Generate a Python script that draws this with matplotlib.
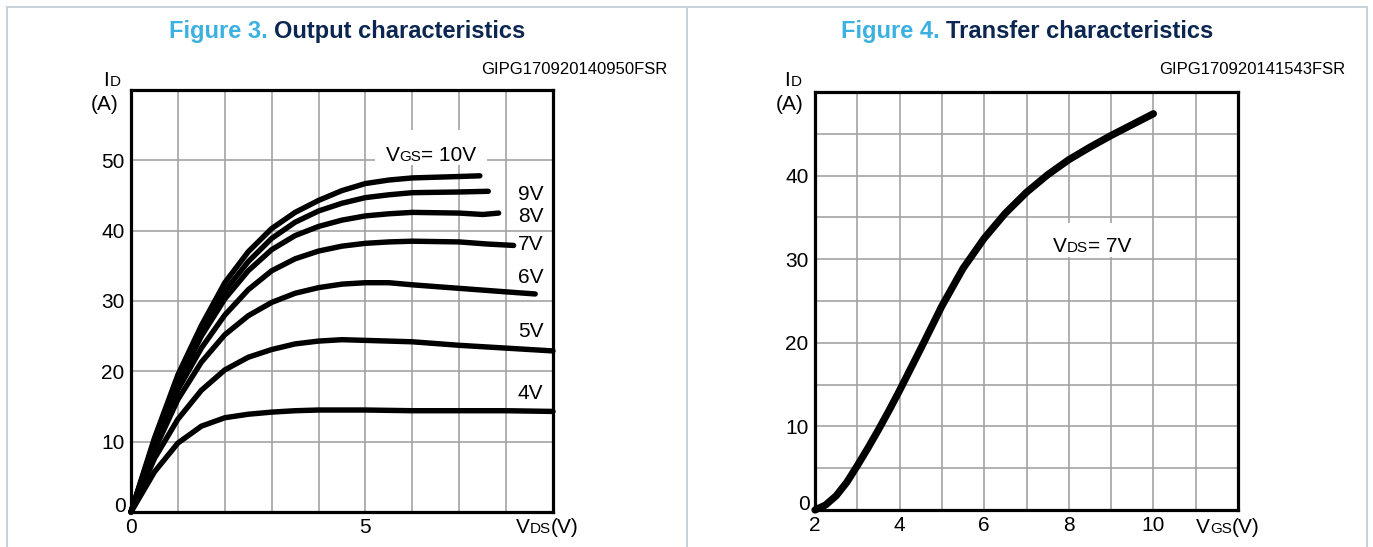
import matplotlib
matplotlib.use("Agg")
import matplotlib.pyplot as plt
from matplotlib.lines import Line2D
from matplotlib.patches import Rectangle
from matplotlib.transforms import ScaledTranslation

plt.rcParams['font.family'] = ['Liberation Sans', 'DejaVu Sans']

W, H, DPI = 1373, 547, 100

# ---------------- Figure 3: output characteristics (ID vs VDS) ----------------
vds_10v = [0, 0.5, 1, 1.5, 2, 2.5, 3, 3.5, 4, 4.5, 5, 5.5, 6, 7, 7.44]
id_10v = [0, 10.5, 19.5, 26.5, 32.6, 37.0, 40.3, 42.6, 44.3, 45.7, 46.7, 47.2, 47.5, 47.7, 47.8]

vds_9v = [0, 0.5, 1, 1.5, 2, 2.5, 3, 3.5, 4, 4.5, 5, 5.5, 6, 7, 7.62]
id_9v = [0, 10.2, 19.0, 25.8, 31.4, 35.6, 38.9, 41.2, 42.8, 43.9, 44.7, 45.1, 45.4, 45.5, 45.6]

vds_8v = [0, 0.5, 1, 1.5, 2, 2.5, 3, 3.5, 4, 4.5, 5, 5.5, 6, 7, 7.5, 7.84]
id_8v = [0, 9.9, 18.4, 25.0, 30.3, 34.3, 37.3, 39.3, 40.6, 41.5, 42.1, 42.4, 42.6, 42.5, 42.3, 42.5]

vds_7v = [0, 0.5, 1, 1.5, 2, 2.5, 3, 3.5, 4, 4.5, 5, 5.5, 6, 7, 7.6, 8.16]
id_7v = [0, 9.4, 17.4, 23.3, 28.0, 31.6, 34.3, 36.0, 37.1, 37.8, 38.2, 38.4, 38.5, 38.4, 38.1, 37.9]

vds_6v = [0, 0.5, 1, 1.5, 2, 2.5, 3, 3.5, 4, 4.5, 5, 5.5, 6, 7, 8, 8.62]
id_6v = [0, 8.8, 16.0, 21.3, 25.2, 27.9, 29.8, 31.1, 31.9, 32.4, 32.6, 32.6, 32.3, 31.8, 31.3, 31.0]

vds_5v = [0, 0.5, 1, 1.5, 2, 2.5, 3, 3.5, 4, 4.5, 5, 6, 7, 8, 9]
id_5v = [0, 7.6, 13.2, 17.3, 20.2, 22.0, 23.1, 23.9, 24.3, 24.5, 24.4, 24.2, 23.7, 23.3, 22.9]

vds_4v = [0, 0.5, 1, 1.5, 2, 2.5, 3, 3.5, 4, 4.5, 5, 6, 7, 8, 9]
id_4v = [0, 5.7, 9.8, 12.2, 13.4, 13.9, 14.2, 14.4, 14.5, 14.5, 14.5, 14.4, 14.4, 14.4, 14.3]

curve_labels = ["9V", "8V", "7V", "6V", "5V", "4V"]
curve_label_y = [45.2, 42.0, 38.1, 33.4, 25.6, 16.8]

out_x_ticks = [0, 1, 2, 3, 4, 5, 6, 7, 8, 9]
out_x_labels = ["0", "", "", "", "", "5", "", "", "", ""]
out_y_ticks = [0, 10, 20, 30, 40, 50, 60]
out_y_labels = ["", "10", "20", "30", "40", "50", ""]

# ---------------- Figure 4: transfer characteristics (ID vs VGS) ----------------
vgs_transfer = [2, 2.25, 2.5, 2.75, 3, 3.25, 3.5, 3.75, 4, 4.5, 5, 5.5, 6,
                6.5, 7, 7.5, 8, 8.5, 9, 9.5, 10]
id_transfer = [0, 0.6, 1.7, 3.3, 5.3, 7.4, 9.6, 11.9, 14.3, 19.3, 24.4, 28.9, 32.5,
               35.5, 38.0, 40.1, 41.9, 43.4, 44.8, 46.1, 47.4]

tr_x_ticks = [2, 3, 4, 5, 6, 7, 8, 9, 10, 11, 12]
tr_x_labels = ["2", "", "4", "", "6", "", "8", "", "10", "", ""]
tr_y_ticks = [0, 5, 10, 15, 20, 25, 30, 35, 40, 45, 50]
tr_y_labels = ["", "", "10", "", "20", "", "30", "", "40", "", ""]

LIGHT_BLUE = "#3cb0e0"
NAVY = "#0b2650"
BORDER = "#c6d0d8"
GRID = "#a3a3a3"
TICK_FS = 15
SMALL_FS = 11

fig = plt.figure(figsize=(W / DPI, H / DPI), dpi=DPI)
renderer = fig.canvas.get_renderer()


def fx(x):
    return x / W


def fy(y):
    return 1 - y / H


def rich_text(x, y, parts, transform=None, ha="center", zorder=5):
    """Draw a run of differently styled pieces sharing one baseline.
    parts: list of (text, fontsize, color, weight, gap_px_before)."""
    if transform is None:
        transform = fig.transFigure
    widths = []
    for s, size, color, weight, gap in parts:
        t = fig.text(0, 0, s, fontsize=size, fontweight=weight)
        widths.append(t.get_window_extent(renderer).width + gap)
        t.remove()
    total = sum(widths)
    off = {"center": -total / 2, "left": 0.0, "right": -total}[ha]
    for (s, size, color, weight, gap), w in zip(parts, widths):
        off_text = off + gap
        tr = transform + ScaledTranslation(off_text / DPI, 0, fig.dpi_scale_trans)
        fig.text(x, y, s, transform=tr, ha="left", va="baseline", fontsize=size,
                 color=color, fontweight=weight, zorder=zorder)
        off += w


def style_axes(ax, xt, xl, yt, yl):
    ax.set_xticks(xt)
    ax.set_xticklabels(xl)
    ax.set_yticks(yt)
    ax.set_yticklabels(yl)
    ax.set_xlim(xt[0], xt[-1])
    ax.set_ylim(yt[0], yt[-1])
    ax.tick_params(length=0, labelsize=TICK_FS)
    ax.tick_params(axis="x", pad=4.5)
    ax.tick_params(axis="y", pad=4.5)
    ax.grid(True, color=GRID, lw=1.2)
    ax.set_axisbelow(True)
    for sp in ax.spines.values():
        sp.set_linewidth(2.3)
        sp.set_color("black")
    # zero label sits slightly above the x axis
    ax.annotate("0", xy=(xt[0], yt[0]), xytext=(-4, 4), textcoords="offset points",
                ha="right", va="center", fontsize=TICK_FS)


# ---- panel frame
frame_kw = dict(transform=fig.transFigure, color=BORDER, lw=1.4)
fig.add_artist(Line2D([fx(7), fx(1367)], [fy(7), fy(7)], **frame_kw))
for xb in (7, 687, 1367):
    fig.add_artist(Line2D([fx(xb), fx(xb)], [0, fy(7)], **frame_kw))

# ---- titles
rich_text(fx(347), fy(38), [("Figure 3.", 17, LIGHT_BLUE, "bold", 0),
                            ("Output characteristics", 17, NAVY, "bold", 6)])
rich_text(fx(1027), fy(38), [("Figure 4.", 17, LIGHT_BLUE, "bold", 0),
                             ("Transfer characteristics", 17, NAVY, "bold", 6)])

fig.text(fx(667), fy(70), "GIPG170920140950FSR", ha="right", va="center", fontsize=12)
fig.text(fx(1345), fy(70), "GIPG170920141543FSR", ha="right", va="center", fontsize=12)

# ---------------- left axes ----------------
ax1 = fig.add_axes([fx(131), fy(512), (553 - 131) / W, (512 - 90) / H])
style_axes(ax1, out_x_ticks, out_x_labels, out_y_ticks, out_y_labels)

output_curves = [(vds_10v, id_10v), (vds_9v, id_9v), (vds_8v, id_8v), (vds_7v, id_7v),
                 (vds_6v, id_6v), (vds_5v, id_5v), (vds_4v, id_4v)]
for xs, ys in output_curves:
    ax1.plot(xs, ys, color="black", lw=3.9, solid_capstyle="round",
             solid_joinstyle="round", clip_on=False, zorder=3)

for lab, yv in zip(curve_labels, curve_label_y):
    ax1.text(8.52, yv, lab, ha="center", va="center", fontsize=TICK_FS, zorder=5)

ax1.add_patch(Rectangle((5.2, 49.4), 2.39, 4.9, facecolor="white", edgecolor="none", zorder=4))
rich_text(6.4, 49.9, [("V", TICK_FS, "black", "normal", 0),
                      ("GS", SMALL_FS, "black", "normal", 0),
                      ("= 10V", TICK_FS, "black", "normal", 0)],
          transform=ax1.transData)

rich_text(fx(112), fy(86), [("I", TICK_FS, "black", "normal", 0),
                            ("D", SMALL_FS, "black", "normal", 1)])
fig.text(fx(105), fy(105), "(A)", ha="center", va="center", fontsize=TICK_FS)
rich_text(fx(547), fy(533), [("V", TICK_FS, "black", "normal", 0),
                             ("DS", SMALL_FS, "black", "normal", 0),
                             ("(V)", TICK_FS, "black", "normal", 0)])

# ---------------- right axes ----------------
ax2 = fig.add_axes([fx(815), fy(510), (1238 - 815) / W, (510 - 92) / H])
style_axes(ax2, tr_x_ticks, tr_x_labels, tr_y_ticks, tr_y_labels)
ax2.plot(vgs_transfer, id_transfer, color="black", lw=5.2, solid_capstyle="round",
         solid_joinstyle="round", clip_on=False, zorder=3)

ax2.add_patch(Rectangle((7.15, 30.3), 2.82, 4.0, facecolor="white", edgecolor="none", zorder=4))
rich_text(8.55, 30.9, [("V", TICK_FS, "black", "normal", 0),
                       ("DS", SMALL_FS, "black", "normal", 0),
                       ("= 7V", TICK_FS, "black", "normal", 0)],
          transform=ax2.transData)

rich_text(fx(793), fy(86), [("I", TICK_FS, "black", "normal", 0),
                            ("D", SMALL_FS, "black", "normal", 1)])
fig.text(fx(790), fy(105), "(A)", ha="center", va="center", fontsize=TICK_FS)
rich_text(fx(1228), fy(533), [("V", TICK_FS, "black", "normal", 0),
                              ("GS", SMALL_FS, "black", "normal", 0),
                              ("(V)", TICK_FS, "black", "normal", 0)])

fig.savefig("out.png", dpi=DPI, facecolor="white")
